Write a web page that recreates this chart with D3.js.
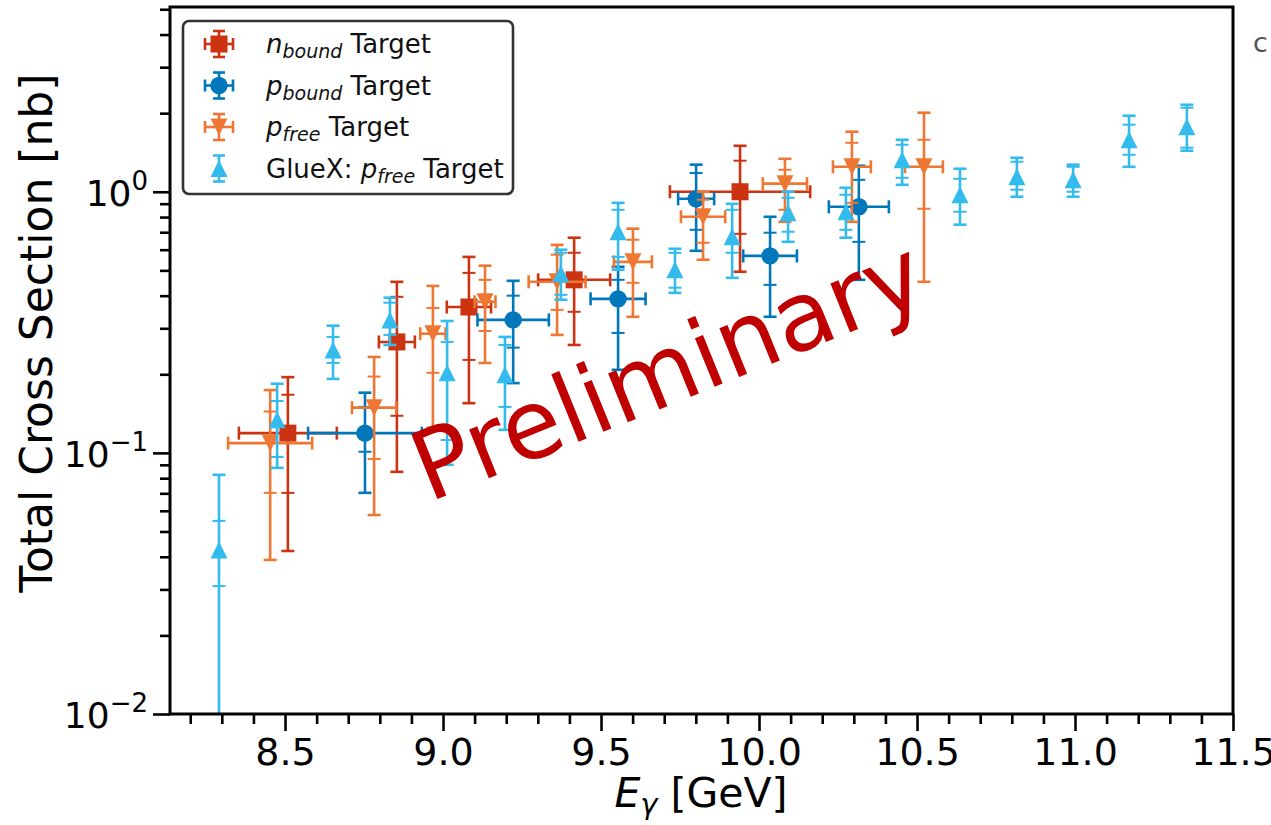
<!DOCTYPE html>
<html>
<head>
<meta charset="utf-8">
<script src="https://cdn.jsdelivr.net/npm/d3@7"></script>
<style>
  html, body { margin: 0; padding: 0; background: #fff; }
  svg { display: block; }
  text { font-family: "DejaVu Sans", sans-serif; }
</style>
</head>
<body>
<svg id="chart" width="1271" height="825"></svg>
<script>
// ---------------- data ----------------
// n_bound target (squares)
const nbE      = [8.509, 8.854, 9.082, 9.415, 9.940];
const nbXerr   = [0.155, 0.057, 0.070, 0.114, 0.222];
const nbVal    = [0.119, 0.266, 0.362, 0.460, 1.000];
const nbStatLo = [0.0703, 0.1387, 0.227, 0.347, 0.690];
const nbStatHi = [0.167, 0.396, 0.489, 0.584, 1.315];
const nbTotLo  = [0.0421, 0.0846, 0.155, 0.259, 0.494];
const nbTotHi  = [0.195, 0.452, 0.563, 0.667, 1.50];

// p_bound target (circles)
const pbE      = [8.753, 9.222, 9.554, 9.801, 10.035, 10.316];
const pbXerr   = [0.180, 0.113, 0.087, 0.057, 0.085, 0.095];
const pbVal    = [0.119, 0.323, 0.389, 0.940, 0.568, 0.876];
const pbStatLo = [0.101, 0.253, 0.288, 0.715, 0.440, 0.643];
const pbStatHi = [0.150, 0.400, 0.460, 1.18, 0.697, 1.111];
const pbTotLo  = [0.0703, 0.185, 0.208, 0.594, 0.332, 0.460];
const pbTotHi  = [0.170, 0.456, 0.516, 1.27, 0.802, 1.258];

// p_free target (down triangles)
const pfE      = [8.453, 8.782, 8.968, 9.133, 9.361, 9.601, 9.823, 10.082, 10.294, 10.522];
const pfXerr   = [0.133, 0.070, 0.040, 0.033, 0.090, 0.060, 0.070, 0.070, 0.060, 0.060];
const pfVal    = [0.109, 0.149, 0.286, 0.379, 0.452, 0.539, 0.802, 1.074, 1.246, 1.246];
const pfStatLo = [0.0703, 0.0948, 0.2026, 0.293, 0.353, 0.448, 0.638, 0.853, 0.907, 0.861];
const pfStatHi = [0.144, 0.196, 0.359, 0.460, 0.574, 0.655, 0.932, 1.214, 1.54, 1.582];
const pfTotLo  = [0.0389, 0.0578, 0.1247, 0.221, 0.283, 0.332, 0.549, 0.767, 0.767, 0.452];
const pfTotHi  = [0.174, 0.233, 0.436, 0.521, 0.626, 0.722, 1.000, 1.337, 1.698, 2.008];

// GlueX: p_free target (up triangles, no energy error)
const gxE      = [8.291, 8.475, 8.652, 8.832, 9.013, 9.196, 9.373, 9.554, 9.734, 9.915, 10.092, 10.275, 10.453, 10.636, 10.816, 10.994, 11.171, 11.354];
const gxVal    = [0.0425, 0.134, 0.248, 0.323, 0.2026, 0.199, 0.485, 0.703, 0.503, 0.672, 0.831, 0.838, 1.326, 0.974, 1.142, 1.111, 1.582, 1.774];
const gxStatLo = [0.0309, 0.0965, 0.221, 0.283, 0.112, 0.150, 0.403, 0.563, 0.429, 0.584, 0.703, 0.715, 1.131, 0.838, 1.018, 1.000, 1.386, 1.475];
const gxStatHi = [0.0549, 0.158, 0.278, 0.376, 0.266, 0.259, 0.584, 0.853, 0.584, 0.853, 0.948, 0.974, 1.514, 1.121, 1.303, 1.246, 1.806, 2.098];
const gxTotLo  = [0.001, 0.0876, 0.192, 0.259, 0.090, 0.1225, 0.386, 0.503, 0.410, 0.468, 0.643, 0.667, 1.063, 0.748, 0.957, 0.957, 1.246, 1.436];
const gxTotHi  = [0.0824, 0.184, 0.307, 0.393, 0.320, 0.278, 0.600, 0.907, 0.605, 0.899, 1.000, 1.036, 1.582, 1.225, 1.349, 1.270, 1.955, 2.154];

// axes / ticks
const xDomain     = [8.136, 11.5];
const yDomain     = [0.01, 5.1];
const xTickValues = [8.5, 9.0, 9.5, 10.0, 10.5, 11.0, 11.5];
const xTickLabels = ["8.5", "9.0", "9.5", "10.0", "10.5", "11.0", "11.5"];
const xMinorTicks = [8.2, 8.3, 8.4, 8.6, 8.7, 8.8, 8.9, 9.1, 9.2, 9.3, 9.4, 9.6, 9.7, 9.8, 9.9,
                     10.1, 10.2, 10.3, 10.4, 10.6, 10.7, 10.8, 10.9, 11.1, 11.2, 11.3, 11.4];
const yTickValues = [0.01, 0.1, 1];
const yTickExps   = ["\u22122", "\u22121", "0"];
const yMinorTicks = [0.02, 0.03, 0.04, 0.05, 0.06, 0.07, 0.08, 0.09,
                     0.2, 0.3, 0.4, 0.5, 0.6, 0.7, 0.8, 0.9, 2, 3, 4, 5];

const seriesNames  = ["bound", "bound", "free", "free"];
const seriesColors = ["#cc3311", "#0077bb", "#ee7733", "#33bbee"];

// ---------------- layout ----------------
const svg = d3.select("#chart");
const L = 170, R = 1233, T = 7, B = 714;
const x = d3.scaleLinear().domain(xDomain).range([L, R]);
const y = d3.scaleLog().domain(yDomain).range([B, T]);

svg.append("defs").append("clipPath").attr("id", "plotclip")
  .append("rect").attr("x", L).attr("y", T).attr("width", R - L).attr("height", B - T);

const plot = svg.append("g").attr("clip-path", "url(#plotclip)");

const CAP = 6.5, LW = 2.6;

function markerPath(kind, cx, cy) {
  const s = 8.5;
  if (kind === "square") return `M${cx - s},${cy - s}H${cx + s}V${cy + s}H${cx - s}Z`;
  if (kind === "down") return `M${cx - s},${cy - s}L${cx + s},${cy - s}L${cx},${cy + s}Z`;
  if (kind === "up") return `M${cx - s},${cy + s}L${cx + s},${cy + s}L${cx},${cy - s}Z`;
  return null;
}

function drawSeries(E, Xerr, Val, StatLo, StatHi, TotLo, TotHi, color, kind) {
  const g = plot.append("g").attr("stroke", color).attr("fill", color)
    .attr("stroke-width", LW).attr("stroke-linecap", "butt");
  E.forEach((e, i) => {
    const cx = x(e), cy = y(Val[i]);
    if (Xerr) {
      const x0 = x(e - Xerr[i]), x1 = x(e + Xerr[i]);
      g.append("line").attr("x1", x0).attr("x2", x1).attr("y1", cy).attr("y2", cy);
      [x0, x1].forEach(xx => g.append("line").attr("x1", xx).attr("x2", xx)
        .attr("y1", cy - CAP).attr("y2", cy + CAP));
    }
    const yt0 = y(TotLo[i]), yt1 = y(TotHi[i]);
    g.append("line").attr("x1", cx).attr("x2", cx).attr("y1", yt0).attr("y2", yt1);
    [yt0, yt1].forEach(yy => g.append("line").attr("x1", cx - CAP).attr("x2", cx + CAP)
      .attr("y1", yy).attr("y2", yy));
    [y(StatLo[i]), y(StatHi[i])].forEach(yy => g.append("line")
      .attr("x1", cx - CAP).attr("x2", cx + CAP).attr("y1", yy).attr("y2", yy)
      .attr("stroke-width", 2));
    if (kind === "circle") {
      g.append("circle").attr("cx", cx).attr("cy", cy).attr("r", 8.7).attr("stroke", "none");
    } else {
      g.append("path").attr("d", markerPath(kind, cx, cy)).attr("stroke", "none");
    }
  });
}

drawSeries(nbE, nbXerr, nbVal, nbStatLo, nbStatHi, nbTotLo, nbTotHi, seriesColors[0], "square");
drawSeries(pbE, pbXerr, pbVal, pbStatLo, pbStatHi, pbTotLo, pbTotHi, seriesColors[1], "circle");
drawSeries(pfE, pfXerr, pfVal, pfStatLo, pfStatHi, pfTotLo, pfTotHi, seriesColors[2], "down");
drawSeries(gxE, null, gxVal, gxStatLo, gxStatHi, gxTotLo, gxTotHi, seriesColors[3], "up");

// ---------------- axes ----------------
const xAxis = d3.axisBottom(x).tickValues(xTickValues).tickSize(17).tickPadding(7)
  .tickFormat((d, i) => xTickLabels[i]);
const gx = svg.append("g").attr("transform", `translate(0,${B})`).call(xAxis);
const gxMinor = svg.append("g").attr("transform", `translate(0,${B})`)
  .call(d3.axisBottom(x).tickValues(xMinorTicks).tickSize(10).tickFormat(""));

const yAxis = d3.axisLeft(y).tickValues(yTickValues).tickSize(17).tickFormat("");
const gy = svg.append("g").attr("transform", `translate(${L},0)`).call(yAxis);
const gyMinor = svg.append("g").attr("transform", `translate(${L},0)`)
  .call(d3.axisLeft(y).tickValues(yMinorTicks).tickSize(10).tickFormat(""));

[gx, gxMinor, gy, gyMinor].forEach(g => {
  g.select(".domain").remove();
  g.selectAll(".tick line").attr("stroke", "#000").attr("stroke-width", 2.6);
});
gx.selectAll(".tick text").attr("font-size", 38).attr("fill", "#000")
  .attr("font-family", "DejaVu Sans");

// y tick labels with superscripts
yTickValues.forEach((v, i) => {
  const t = svg.append("text").attr("x", 148).attr("y", y(v) + 14)
    .attr("text-anchor", "end").attr("font-size", 36).attr("fill", "#000");
  t.append("tspan").text("10");
  t.append("tspan").attr("font-size", 26).attr("dy", -16).text(yTickExps[i]);
});

// spines
svg.append("rect").attr("x", L).attr("y", T).attr("width", R - L).attr("height", B - T)
  .attr("fill", "none").attr("stroke", "#000").attr("stroke-width", 3);

// axis labels
const xl = svg.append("text").attr("x", 701).attr("y", 807)
  .attr("text-anchor", "middle").attr("font-size", 41).attr("fill", "#000");
xl.append("tspan").attr("font-style", "italic").text("E");
xl.append("tspan").attr("font-style", "italic").attr("font-size", 29).attr("dy", 7).text("\u03b3");
xl.append("tspan").attr("dy", -7).text(" [GeV]");

svg.append("text").attr("transform", "translate(52,333) rotate(-90)")
  .attr("text-anchor", "middle").attr("font-size", 44).attr("fill", "#000")
  .text("Total Cross Section [nb]");

// ---------------- legend ----------------
const leg = svg.append("g");
leg.append("rect").attr("x", 183).attr("y", 21).attr("width", 330).attr("height", 173)
  .attr("rx", 6).attr("fill", "#fff").attr("stroke", "#333").attr("stroke-width", 2.6);

const legKinds = ["square", "circle", "down", "up"];
const legPrefix = ["n", "p", "p", "p"];
const legLead = ["", "", "", "GlueX: "];
legKinds.forEach((k, i) => {
  const cy = 44 + i * 41.5, cx = 219, col = seriesColors[i];
  const g = leg.append("g").attr("stroke", col).attr("fill", col).attr("stroke-width", LW);
  if (i < 3) {
    g.append("line").attr("x1", cx - 14).attr("x2", cx + 14).attr("y1", cy).attr("y2", cy);
    [cx - 14, cx + 14].forEach(xx => g.append("line").attr("x1", xx).attr("x2", xx)
      .attr("y1", cy - 6).attr("y2", cy + 6));
  }
  g.append("line").attr("x1", cx).attr("x2", cx).attr("y1", cy - 13).attr("y2", cy + 13);
  [cy - 13, cy + 13].forEach(yy => g.append("line").attr("x1", cx - 6).attr("x2", cx + 6)
    .attr("y1", yy).attr("y2", yy));
  if (k === "circle") g.append("circle").attr("cx", cx).attr("cy", cy).attr("r", 8.7).attr("stroke", "none");
  else g.append("path").attr("d", markerPath(k, cx, cy)).attr("stroke", "none");

  const t = leg.append("text").attr("x", 266).attr("y", cy + 9)
    .attr("font-size", 26).attr("fill", "#111");
  if (legLead[i]) t.append("tspan").text(legLead[i]);
  t.append("tspan").attr("font-style", "italic").text(legPrefix[i]);
  t.append("tspan").attr("font-style", "italic").attr("font-size", 19).attr("dy", 5).text(seriesNames[i]);
  t.append("tspan").attr("dy", -5).text(" Target");
});

// ---------------- watermark ----------------
svg.append("text").attr("transform", "translate(680,401) rotate(-22)")
  .attr("text-anchor", "middle").attr("font-family", "Liberation Sans, Arial, sans-serif")
  .attr("font-size", 96).attr("fill", "#c00000").text("Preliminary");

// stray glyph at the right edge of the original slide
svg.append("text").attr("x", 1253).attr("y", 52).attr("font-size", 27).attr("fill", "#555").text("c");
</script>
</body>
</html>
